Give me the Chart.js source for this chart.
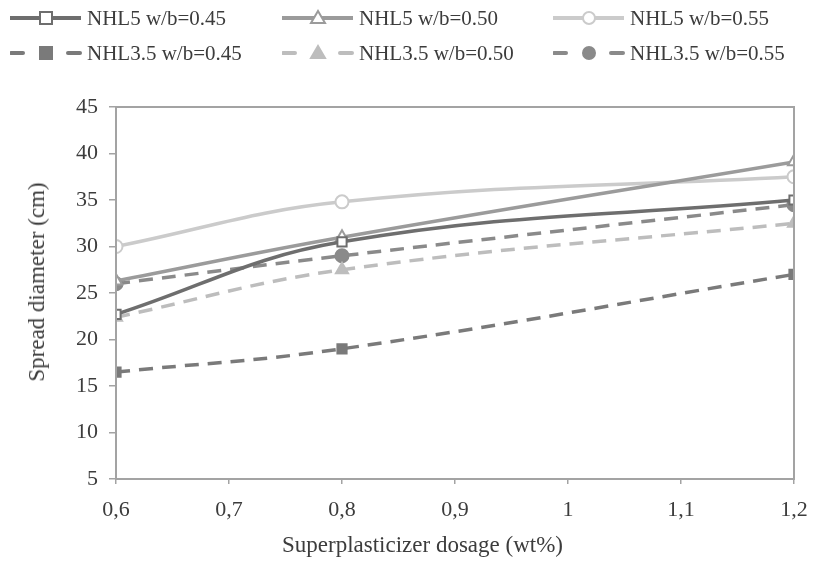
<!DOCTYPE html>
<html>
<head>
<meta charset="utf-8">
<script src="https://cdn.jsdelivr.net/npm/chart.js@4"></script>
<style>
  body { margin: 0; background: #fff; }
  #wrap { position: relative; width: 815px; height: 568px; font-family: "Liberation Serif", "Times New Roman", Times, serif; color: #3c3c3c; }
  #chart { position: absolute; left: 0; top: 0; }
  #legend { position: absolute; left: 0; top: 0; width: 815px; height: 80px; }
  .item { position: absolute; height: 28px; }
  .item svg { position: absolute; left: 0; top: 0; }
  .item span { position: absolute; left: 77px; top: 0; line-height: 28px; font-size: 21px; white-space: nowrap; }
  #xtitle { position: absolute; left: 282px; top: 531px; font-size: 23px; line-height: 28px; white-space: nowrap; }
  #ytitle { position: absolute; left: 37px; top: 282px; font-size: 23px; line-height: 28px; white-space: nowrap; transform: translate(-50%, -50%) rotate(-90deg); }
</style>
</head>
<body>
<div id="wrap">
  <canvas id="chart" width="815" height="568"></canvas>
  <div id="legend"></div>
  <div id="xtitle">Superplasticizer dosage (wt%)</div>
  <div id="ytitle">Spread diameter (cm)</div>
</div>
<script>
const dosage = [0.6, 0.8, 1.2];
const seriesNames = [
  "NHL5 w/b=0.45", "NHL5 w/b=0.50", "NHL5 w/b=0.55",
  "NHL3.5 w/b=0.45", "NHL3.5 w/b=0.50", "NHL3.5 w/b=0.55"
];
const nhl5_045 = [22.7, 30.5, 35.0];
const nhl5_050 = [26.3, 31.0, 39.1];
const nhl5_055 = [30.0, 34.8, 37.5];
const nhl35_045 = [16.5, 19.0, 27.0];
const nhl35_050 = [22.4, 27.5, 32.5];
const nhl35_055 = [26.0, 29.0, 34.5];

const seriesValues = [nhl5_045, nhl5_050, nhl5_055, nhl35_045, nhl35_050, nhl35_055];
const seriesColors = ["#6e6e6e", "#9b9b9b", "#cbcbcb", "#7a7a7a", "#bdbdbd", "#8a8a8a"];
const seriesMarkers = ["rect", "triangle", "circle", "rect", "triangle", "circle"];
const seriesFilled = [false, false, false, true, true, true];
const seriesDashed = [false, false, false, true, true, true];

const textColor = "#3c3c3c";
const axisColor = "#a3a3a3";
const serif = "'Liberation Serif', 'Times New Roman', Times, serif";

function fmtTick(value) {
  const v = Math.round(value * 10) / 10;
  if (Number.isInteger(v)) return String(v);
  return v.toFixed(1).replace(".", ",");
}

const datasets = seriesNames.map((name, i) => ({
  label: name,
  data: dosage.map((x, j) => ({ x, y: seriesValues[i][j] })),
  borderColor: seriesColors[i],
  backgroundColor: seriesColors[i],
  borderWidth: 3.5,
  borderDash: seriesDashed[i] ? [14, 9] : [],
  tension: 0.4,
  pointStyle: seriesMarkers[i],
  pointRadius: seriesMarkers[i] === "triangle" ? 7 : 6.5,
  pointBorderWidth: 2,
  pointBorderColor: seriesColors[i],
  pointBackgroundColor: seriesFilled[i] ? seriesColors[i] : "#ffffff",
}));

// box round the plot area, like the original frame
const frameBox = {
  id: "frameBox",
  afterDraw(chart) {
    const { ctx, chartArea } = chart;
    ctx.save();
    ctx.strokeStyle = axisColor;
    ctx.lineWidth = 2;
    ctx.strokeRect(chartArea.left, chartArea.top, chartArea.right - chartArea.left, chartArea.bottom - chartArea.top);
    ctx.restore();
  },
};

new Chart(document.getElementById("chart"), {
  type: "line",
  data: { datasets },
  plugins: [frameBox],
  options: {
    responsive: false,
    animation: false,
    layout: { padding: { left: 0, right: 21, top: 107, bottom: 0 } },
    plugins: { legend: { display: false }, tooltip: { enabled: false } },
    scales: {
      x: {
        type: "linear",
        min: 0.6,
        max: 1.2,
        ticks: { stepSize: 0.1, color: textColor, font: { family: serif, size: 22 }, padding: 13, callback: fmtTick },
        grid: { drawOnChartArea: false, drawTicks: true, tickLength: 5, color: axisColor, lineWidth: 1.5 },
        border: { color: axisColor, width: 2 },
        afterFit(scale) {
          scale.height = 89;
          scale.paddingLeft = 0;
          scale.paddingRight = 0;
        },
      },
      y: {
        min: 5,
        max: 45,
        ticks: { stepSize: 5, color: textColor, font: { family: serif, size: 22 }, padding: 11 },
        grid: { drawOnChartArea: false, drawTicks: true, tickLength: 7, color: axisColor, lineWidth: 1.5 },
        border: { color: axisColor, width: 2 },
        afterFit(scale) { scale.width = 116; },
      },
    },
  },
});

// legend: 3 columns x 2 rows, line sample with marker in the middle
const legendEl = document.getElementById("legend");
const colX = [10, 282, 553];
const rowY = [4, 39];
function markerSvg(i) {
  const c = seriesColors[i];
  const fill = seriesFilled[i] ? c : "#ffffff";
  const cx = 36, cy = 14;
  if (seriesMarkers[i] === "rect") return `<rect x="${cx - 6}" y="${cy - 6}" width="12" height="12" fill="${fill}" stroke="${c}" stroke-width="2"/>`;
  if (seriesMarkers[i] === "triangle") return `<polygon points="${cx},${cy - 7} ${cx + 7},${cy + 5} ${cx - 7},${cy + 5}" fill="${fill}" stroke="${c}" stroke-width="2"/>`;
  return `<circle cx="${cx}" cy="${cy}" r="6" fill="${fill}" stroke="${c}" stroke-width="2"/>`;
}
seriesNames.forEach((name, i) => {
  const col = i % 3;
  const row = Math.floor(i / 3);
  const c = seriesColors[i];
  const line = seriesDashed[i]
    ? `<line x1="1" y1="14" x2="13" y2="14" stroke="${c}" stroke-width="4" stroke-linecap="round"/><line x1="58" y1="14" x2="70" y2="14" stroke="${c}" stroke-width="4" stroke-linecap="round"/>`
    : `<line x1="0" y1="14" x2="71" y2="14" stroke="${c}" stroke-width="4"/>`;
  const div = document.createElement("div");
  div.className = "item";
  div.style.left = colX[col] + "px";
  div.style.top = rowY[row] + "px";
  div.innerHTML = `<svg width="72" height="28">${line}${markerSvg(i)}</svg><span>${name}</span>`;
  legendEl.appendChild(div);
});
</script>
</body>
</html>
